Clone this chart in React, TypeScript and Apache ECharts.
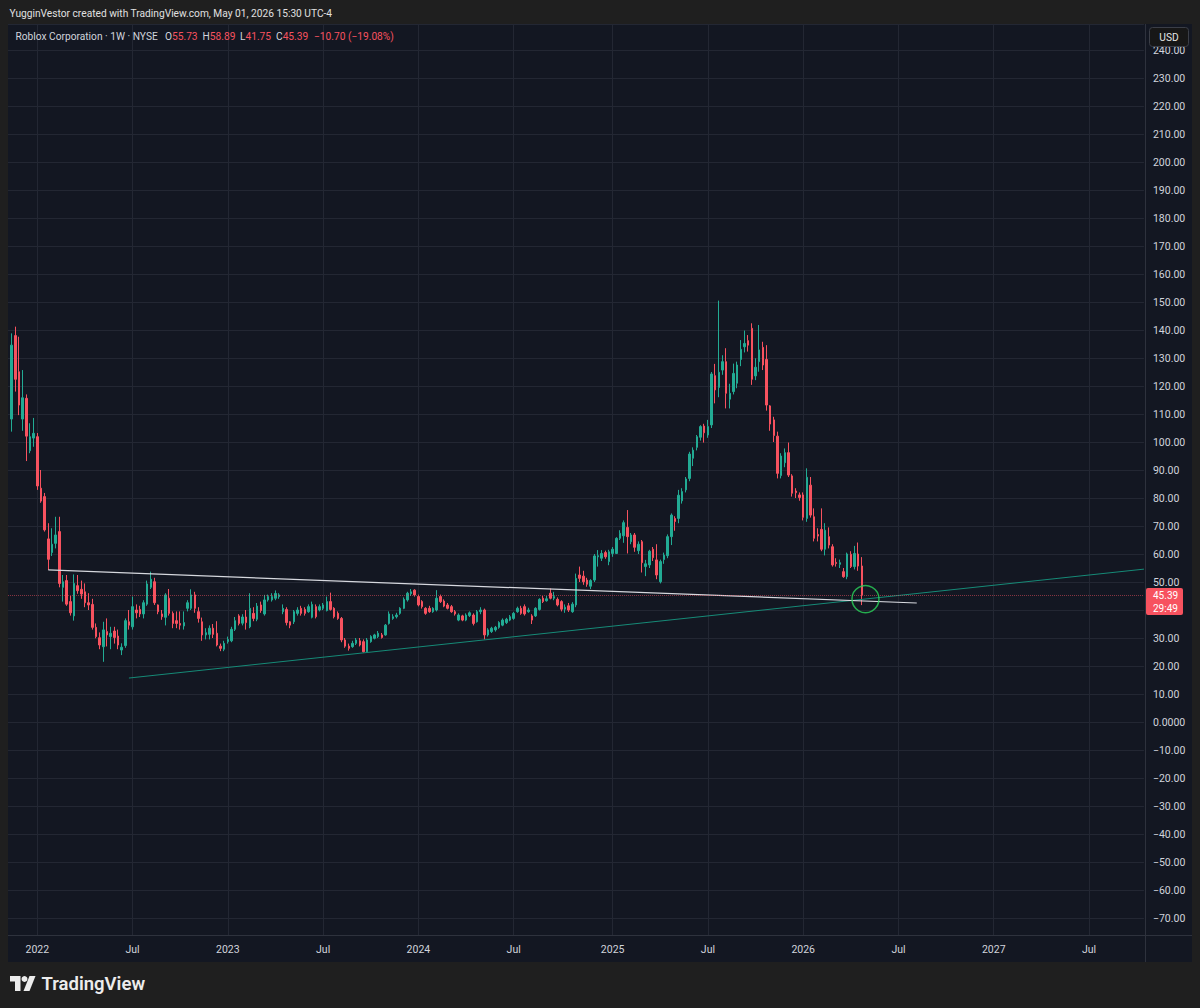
import React, { useEffect, useRef } from 'react';
import * as echarts from 'echarts';

// ---------- DATA ----------
const FIRST_WEEK_UTC = [2021, 10, 8]; // first (empty) weekly slot: 2021-11-08
const WEEK_COUNT = 311; // weekly slots on the time scale (incl. future space)

// weekly candles [open, close, low, high], starting week of 2021-11-15
const candles2021 = [
  [108.2, 134.6, 103.7, 138.8], [138, 122.4, 118, 141.2], [125.1, 113.2, 109.6, 137.6],
  [108.2, 115.8, 104, 125.7], [115.6, 102.1, 93.2, 117], [96.9, 101.9, 96, 106.7],
  [101.4, 103.1, 98.3, 108.6],
];
const candles2022 = [
  [101.9, 84.3, 82.9, 103.2], [83.5, 78.9, 78.3, 90], [80.5, 68.6, 68, 81.8], [65.4, 58.1, 54.3, 71],
  [60.5, 63.5, 59.3, 69.2], [63.8, 66.8, 62, 73.3], [68, 49.5, 48.1, 73.3], [48.1, 50.1, 43, 52.5],
  [50.5, 42.1, 41.5, 52.5], [43, 39, 38, 45], [37.9, 49.5, 36.2, 52.7], [48.7, 46.9, 45.8, 52.5],
  [47.4, 45.7, 44, 50.5], [46.5, 42.6, 41, 49.5], [42.6, 41.8, 40, 46], [42, 33.8, 33, 44],
  [33.8, 30.5, 29.9, 35.2], [30.1, 27.5, 26, 32], [26.9, 32.9, 21.5, 35.8], [32.3, 31.1, 27, 37],
  [30.5, 31.7, 26, 34], [32.5, 30.2, 28, 34], [30.7, 27.5, 26, 33], [25.7, 26.7, 23.9, 28.1],
  [27.3, 36.2, 26.5, 37], [35.8, 34.6, 33, 40], [34, 41.2, 33, 44.8], [40, 39, 37, 42],
  [40.2, 38.6, 37.5, 41.5], [38.6, 42.6, 37, 43.5], [42.1, 49.3, 41.5, 50.5], [48.1, 51, 47.5, 53.7],
  [50.1, 42.6, 41.8, 51.5], [41.8, 39.4, 38.5, 42], [38.6, 37.6, 36.5, 40], [37.4, 45.4, 34.5, 46],
  [44.2, 38.8, 38, 47.5], [38.8, 35.2, 33.5, 39.5], [36.2, 35.2, 33.5, 39.5], [35.2, 34.6, 33, 39.5],
  [34.3, 35.5, 33, 39.5], [40.6, 42.6, 39.5, 43.5], [40.6, 45.4, 40, 47.4], [45.4, 40.6, 39, 46.5],
  [39.4, 37, 35.5, 41], [35.8, 31.1, 29, 37.3], [31.1, 31.9, 29.5, 33.5], [31.3, 33.5, 29.5, 34.5],
  [33.5, 31.3, 30, 35], [31.7, 27.5, 27, 36], [27.1, 26.3, 25.3, 28], [26, 28.1, 25.3, 29],
];
const candles2023 = [
  [28.7, 29.5, 28, 30.5], [29, 33.1, 28.5, 34], [33.1, 36.2, 32.5, 37.5], [37.9, 35.2, 34.5, 38.5],
  [35.3, 37.5, 34.5, 38.5], [37.5, 35.5, 33, 40], [34, 40.6, 33.5, 46], [38.8, 37, 36, 41],
  [36.7, 41.4, 36, 42.5], [41.8, 39.8, 39, 43], [38.6, 43.6, 38, 45.4], [43.6, 44.8, 43, 45.5],
  [43.6, 44.8, 43, 46], [44.2, 45.9, 43.5, 47], [44.8, 45.4, 44, 46], [39.4, 40.6, 38.5, 42],
  [40.2, 35.5, 34.5, 41], [35.8, 34.6, 33.5, 36], [35.8, 39.4, 35, 40], [38.8, 40, 38, 41],
  [40.6, 38.8, 38, 41.5], [40.2, 38.8, 38, 41], [39.4, 41.2, 39, 42], [37.4, 42, 37, 43],
  [41.2, 37.6, 37, 42], [40, 41.2, 39.5, 42], [40.6, 41.8, 40, 42.5], [39.8, 43, 39.5, 44.8],
  [43, 40.2, 39.8, 46.2], [40.6, 37.6, 37, 41], [38.8, 37, 36.5, 39.5], [37, 29.3, 28.5, 37.5],
  [29.3, 27.1, 26.5, 30], [27.1, 26.3, 25.5, 28], [26.9, 28.1, 26.5, 29], [28.1, 29.3, 27.5, 30],
  [29, 27.5, 27, 30], [28.7, 25.1, 24.8, 29.5], [25.1, 29.3, 24.8, 30], [28.7, 30.5, 28.3, 31],
  [29.9, 31.1, 29.5, 31.5], [30.5, 31.7, 30, 32.5], [31.1, 30.2, 29.8, 31.8], [31.1, 34.6, 30.8, 35],
  [35.2, 38.6, 34.8, 39.5], [37, 37.6, 36.5, 38.5], [37.6, 38.2, 37, 39], [38.8, 40.6, 38.3, 41],
  [40.6, 43.8, 40.3, 44.5], [43.6, 46, 43, 46.5], [45.8, 46.5, 45, 47.5], [47.1, 45.4, 44.8, 47.4],
];
const candles2024 = [
  [44.8, 41.8, 41.3, 45.5], [43, 41.2, 40.5, 43.5], [40.6, 38.8, 38.3, 41], [40.6, 39.4, 39, 41.5],
  [39.4, 40.6, 39, 41], [40, 44.2, 39.5, 47.1], [44.8, 43, 42.5, 45.5], [43.2, 41.4, 41, 43.8],
  [41.8, 40.6, 40.2, 42.5], [41.2, 39.4, 39, 41.8], [39.4, 38.6, 38, 40], [36.4, 38.2, 36, 38.8],
  [37.9, 36.4, 36, 38.3], [36.4, 38.2, 36, 38.8], [38, 39, 37.5, 39.5], [38.2, 35.2, 34.5, 38.8],
  [35.8, 39.4, 35.5, 40], [39.4, 40, 38.5, 41], [40, 31.1, 29.5, 40.5], [31.1, 32.9, 30.5, 33.5],
  [32.3, 33.5, 31.8, 34], [32.9, 33.8, 32.3, 34.3], [33.8, 35.5, 33.3, 36], [34.6, 36.4, 34.2, 37],
  [35.5, 36.7, 35, 37.2], [36.4, 37.6, 36, 38.2], [37, 38.8, 36.5, 39.3], [39.4, 40.6, 39, 41.2],
  [40.6, 38.8, 38.3, 41.5], [41.2, 38.6, 38, 42], [39.4, 40, 39, 40.8], [37.9, 36.4, 35, 38.5],
  [37.9, 40.6, 37.5, 41], [40.2, 43.8, 39.8, 44.2], [44.2, 43, 42.5, 45], [43.3, 44, 43, 45],
  [46, 44.2, 43.8, 47.7], [44.2, 44.8, 43.5, 46.5], [43.8, 41.8, 41.3, 44.5], [43, 40.3, 39.5, 43.5],
  [40.3, 41, 39, 42], [41.5, 40, 39.3, 42.5], [39.4, 42.1, 39, 42.8], [41.8, 51.3, 41, 53],
  [52.5, 51.3, 50, 55.5], [52.1, 50.1, 49, 54], [50.7, 49.2, 48.3, 51.5], [48.5, 50.5, 47.5, 51],
  [50.7, 59.3, 50, 60], [59, 59.4, 55.5, 61.4], [58.5, 60.2, 57.5, 61.4], [60.5, 59, 58.3, 61.2],
  [57.3, 60.8, 56, 61.5],
];
const candles2025 = [
  [60.2, 61.7, 59, 62.5], [60.2, 65.6, 60, 66], [65.6, 67.4, 65, 68.5], [66.5, 71.2, 64, 72],
  [69.5, 66.2, 60.2, 75.7], [64.4, 66.8, 63.5, 67.5], [66.8, 62.4, 60.8, 67.5], [61.2, 63.5, 60, 64.5],
  [64.4, 56.9, 53.4, 65], [55.5, 56.5, 52.1, 57.9], [56.1, 61, 55, 61.5], [61.7, 58.7, 57.5, 62.5],
  [57.9, 52.5, 51, 63.5], [50.1, 57.3, 49.5, 58], [58, 59.6, 56.5, 60.5], [59.4, 66.2, 58.5, 67],
  [66.2, 73.9, 63.2, 74.5], [72.7, 71.6, 68.3, 73.5], [72.7, 81, 71, 82.9], [79, 82.3, 78, 83.5],
  [82.9, 86.8, 82, 87.5], [87, 95.7, 86, 96.5], [94.2, 97.1, 91.4, 98.1], [98.1, 101.9, 97, 102.5],
  [101.7, 105.5, 100.5, 106], [105.7, 103.3, 99.8, 106.5], [102.5, 105.5, 101.5, 107.9], [106.1, 124.3, 105, 125],
  [123.7, 118.6, 113.8, 127.9], [119.5, 124.9, 116, 150.5], [125.7, 128.7, 124, 131], [128.7, 117.4, 112, 133.5],
  [115.3, 117.4, 112, 120.8], [118, 124.5, 117, 128], [121, 127.5, 119.2, 128.7], [129.5, 133.1, 127.1, 136.4],
  [134, 135.2, 132, 139.8], [136.2, 134.6, 132.3, 138.2], [140.6, 122.4, 120.4, 142.4], [123.6, 126.7, 122.1, 129.9],
  [128.7, 132.9, 125.1, 141.8], [133.8, 127.5, 125.7, 135.8], [129.5, 113.2, 111.2, 134.6], [112.9, 106.4, 104, 113.2],
  [107.9, 102.3, 100, 109], [102.1, 88.8, 87, 103.7], [88, 95, 87, 96], [92.6, 96.2, 91, 97.7],
  [96.2, 88.2, 87.5, 99.8], [87.9, 81.7, 80.5, 88.5], [82.5, 81.9, 80, 83.5], [81.1, 80.2, 79, 82],
];
const candles2026 = [
  [81.1, 73.1, 72, 82], [72.7, 87.4, 71.5, 90.6], [84.6, 73.9, 73, 87.5], [73.3, 65.6, 64.5, 76.3],
  [67, 66.4, 64.5, 69.2], [68.8, 61.7, 61, 76.3], [61.7, 68.5, 59.5, 71], [66.2, 63.2, 62, 69.5],
  [62.6, 56.1, 55.5, 63.5], [57, 56.6, 55.5, 58.5], [56.3, 56.9, 55, 58], [53.7, 51.9, 51.5, 55],
  [51.9, 60, 51, 60.5], [59.9, 55.5, 55, 61], [55.5, 60.2, 54.5, 62.9], [60, 55.7, 54, 64.1],
  [55.73, 45.39, 41.75, 58.89],
];

// drawn trend lines: [week slot, price]
const trendWhite = [[11, 54.3], [248, 42.5]];
const trendTeal = [[33, 15.7], [310, 54.6]];
const circleMark = [[234, 43.9]];
const lastPrice = 45.39;
const countdown = '29:49';
const hiddenPriceTicks = [40]; // covered by the last-price label

const headerTitle = 'Roblox Corporation · 1W · NYSE';
const ohlcLabels = ['O', 'H', 'L', 'C'];
const ohlcValues = ['55.73', '58.89', '41.75', '45.39'];
const changeText = '\u221210.70 (\u221219.08%)';
const watermark = 'YugginVestor created with TradingView.com, May 01, 2026 15:30 UTC-4';

// ---------- STYLE ----------
const FONT = 'Roboto, "Noto Sans", "Liberation Sans", sans-serif';
const PANEL = '#131722';
const FRAME = '#1f1f1f';
const GRID = '#232733';
const SEP = '#2e323d';
const TEXT = '#d1d4dc';
const UP = '#22ab94';
const DOWN = '#f7525f';
const SMALL = 10.2;
const AXIS_FS = 10.5;

function buildWeeks(): string[] {
  const start = Date.UTC(FIRST_WEEK_UTC[0], FIRST_WEEK_UTC[1], FIRST_WEEK_UTC[2]);
  const out: string[] = [];
  for (let c = 0; c < WEEK_COUNT; c++) {
    out.push(new Date(start + c * 7 * 86400000).toISOString().slice(0, 10));
  }
  return out;
}

export default function App() {
  const ref = useRef<HTMLDivElement>(null);

  useEffect(() => {
    if (!ref.current) return;
    const chart = echarts.init(ref.current, undefined, { renderer: 'svg' });

    const weeks = buildWeeks();
    const labelMap: Record<number, string> = {};
    weeks.forEach((w, c) => {
      if (c === 0) return;
      const m = Number(w.slice(5, 7));
      const pm = Number(weeks[c - 1].slice(5, 7));
      if (m !== pm && (m === 1 || m === 7)) labelMap[c] = m === 1 ? w.slice(0, 4) : 'Jul';
    });
    const isLabel = (i: number) => labelMap[i] !== undefined;

    const allCandles = [
      ...candles2021, ...candles2022, ...candles2023, ...candles2024, ...candles2025, ...candles2026,
    ];
    const candleData = allCandles.map((c, i) => [i + 1, c[0], c[1], c[2], c[3]]);

    const mid = { verticalAlign: 'middle', textVerticalAlign: 'middle' };

    const ohlcTexts: any[] = [];
    const ohlcX = [165, 202.5, 240, 276];
    ohlcLabels.forEach((l, k) => {
      ohlcTexts.push({
        type: 'text', x: ohlcX[k], y: 36, z: 101, silent: true,
        style: {
          text: `{l|${l}}{v|${ohlcValues[k]}}`,
          ...mid,
          rich: {
            l: { fill: TEXT, fontSize: SMALL, fontFamily: FONT },
            v: { fill: DOWN, fontSize: SMALL, fontFamily: FONT },
          },
        },
      });
    });

    const option: any = {
      animation: false,
      backgroundColor: PANEL,
      grid: { left: 8, top: 24, width: 310 * 3.6644, height: 911, containLabel: false },
      xAxis: {
        type: 'category',
        data: weeks,
        boundaryGap: false,
        axisLine: { show: false },
        axisTick: { show: false },
        axisLabel: {
          interval: (i: number) => isLabel(i),
          formatter: (_v: string, i: number) => labelMap[i] ?? '',
          color: TEXT, fontSize: AXIS_FS, fontFamily: FONT, margin: 9,
        },
        splitLine: { show: true, interval: (i: number) => isLabel(i), lineStyle: { color: GRID, width: 1 } },
      },
      yAxis: {
        type: 'value',
        position: 'right',
        min: -76.07,
        max: 249.29,
        minInterval: 10,
        maxInterval: 10,
        scale: true,
        axisLine: { show: false },
        axisTick: { show: false },
        axisLabel: {
          showMinLabel: false, showMaxLabel: false,
          color: TEXT, fontSize: AXIS_FS, fontFamily: FONT, margin: 9,
          formatter: (v: number) => {
            if (hiddenPriceTicks.some((h) => Math.abs(h - v) < 1e-9)) return '';
            if (Math.abs(v) < 1e-9) return '0.0000';
            const s = Math.abs(v).toFixed(2);
            return v < 0 ? '\u2212' + s : s;
          },
        },
        splitLine: { show: true, lineStyle: { color: GRID, width: 1 } },
      },
      series: [
        {
          type: 'candlestick',
          data: candleData,
          encode: { x: 0, y: [1, 2, 3, 4] },
          barWidth: 2,
          itemStyle: { color: UP, color0: DOWN, borderColor: UP, borderColor0: DOWN, borderWidth: 1 },
          z: 3,
          silent: true,
          markLine: {
            silent: true,
            symbol: ['none', 'none'],
            label: { show: false },
            lineStyle: { color: DOWN, type: 'dotted', width: 1, opacity: 0.5 },
            data: [{ yAxis: lastPrice }],
          },
        },
        {
          type: 'line', data: trendTeal, symbol: 'none', silent: true, z: 4,
          lineStyle: { color: '#168a77', width: 1 },
        },
        {
          type: 'line', data: trendWhite, symbol: 'none', silent: true, z: 4,
          lineStyle: { color: '#d6d8de', width: 1.2 },
        },
        {
          type: 'scatter', data: circleMark, symbol: 'circle', symbolSize: 27, silent: true, z: 5,
          itemStyle: { color: 'rgba(0,0,0,0)', borderColor: '#2bd35a', borderWidth: 1.5 },
        },
      ],
      graphic: [
        { type: 'rect', z: 100, silent: true, shape: { x: 0, y: 0, width: 1200, height: 24 }, style: { fill: FRAME } },
        { type: 'rect', z: 100, silent: true, shape: { x: 0, y: 0, width: 8, height: 1008 }, style: { fill: FRAME } },
        { type: 'rect', z: 100, silent: true, shape: { x: 1192, y: 0, width: 8, height: 1008 }, style: { fill: FRAME } },
        { type: 'rect', z: 100, silent: true, shape: { x: 0, y: 962, width: 1200, height: 46 }, style: { fill: FRAME } },
        { type: 'line', z: 100, silent: true, shape: { x1: 8, y1: 935.5, x2: 1192, y2: 935.5 }, style: { stroke: SEP, lineWidth: 1 } },
        { type: 'line', z: 100, silent: true, shape: { x1: 1145.5, y1: 24, x2: 1145.5, y2: 962 }, style: { stroke: SEP, lineWidth: 1 } },
        {
          type: 'text', x: 9.5, y: 13, z: 101, silent: true,
          style: { text: watermark, fill: '#e0e0e0', fontSize: SMALL, fontFamily: FONT, ...mid },
        },
        {
          type: 'text', x: 15.5, y: 36, z: 101, silent: true,
          style: { text: headerTitle, fill: TEXT, fontSize: SMALL, fontFamily: FONT, ...mid },
        },
        ...ohlcTexts,
        {
          type: 'text', x: 314, y: 36, z: 101, silent: true,
          style: { text: changeText, fill: DOWN, fontSize: SMALL, fontFamily: FONT, ...mid },
        },
        // USD box
        { type: 'rect', z: 101, silent: true, shape: { x: 1149.5, y: 27.5, width: 39, height: 19, r: 3 }, style: { fill: '#171717', stroke: '#3b3e47', lineWidth: 1 } },
        {
          type: 'text', x: 1169, y: 37, z: 102, silent: true,
          style: { text: 'USD', fill: '#e6e6e6', fontSize: SMALL, fontFamily: FONT, align: 'center', textAlign: 'center', ...mid },
        },
        // last price label
        { type: 'rect', z: 101, silent: true, shape: { x: 1146, y: 588, width: 37, height: 27, r: 2 }, style: { fill: DOWN } },
        {
          type: 'text', x: 1153, y: 595, z: 102, silent: true,
          style: { text: lastPrice.toFixed(2), fill: '#ffffff', fontSize: 10, fontFamily: FONT, ...mid },
        },
        {
          type: 'text', x: 1153, y: 608, z: 102, silent: true,
          style: { text: countdown, fill: '#ffffff', fontSize: 10, fontFamily: FONT, ...mid },
        },
        // TradingView logo
        { type: 'polygon', z: 101, silent: true, shape: { points: [[10, 976], [20.5, 976], [20.5, 991], [15, 991], [15, 981.5], [10, 981.5]] }, style: { fill: '#ececec' } },
        { type: 'circle', z: 101, silent: true, shape: { cx: 24.5, cy: 979, r: 3 }, style: { fill: '#ececec' } },
        { type: 'polygon', z: 101, silent: true, shape: { points: [[29.5, 976], [35.5, 976], [29.5, 991], [23.5, 991]] }, style: { fill: '#ececec' } },
        {
          type: 'text', x: 41.5, y: 983.5, z: 101, silent: true,
          style: { text: 'TradingView', fill: '#ececec', fontSize: 18.5, fontWeight: 600, fontFamily: FONT, ...mid },
        },
      ],
    };

    chart.setOption(option);
    return () => chart.dispose();
  }, []);

  return (
    <div
      ref={ref}
      style={{ position: 'fixed', left: 0, top: 0, width: 1200, height: 1008 }}
    />
  );
}
